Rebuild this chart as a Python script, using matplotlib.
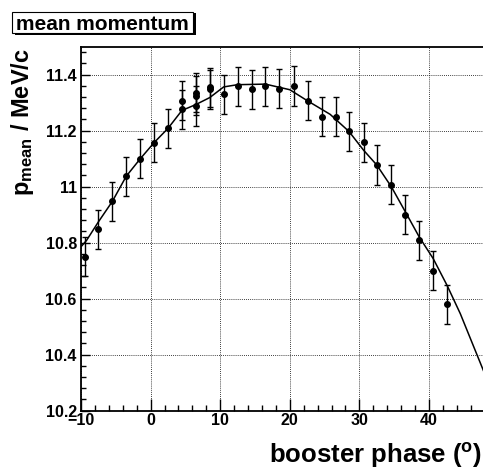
import matplotlib
matplotlib.use("Agg")
import matplotlib.pyplot as plt
from matplotlib.patches import Rectangle

plt.rcParams["font.family"] = ["Liberation Sans", "DejaVu Sans"]
plt.rcParams["font.weight"] = "bold"
plt.rcParams["mathtext.fontset"] = "custom"
plt.rcParams["mathtext.rm"] = "Liberation Sans:bold"
plt.rcParams["mathtext.sf"] = "Liberation Sans:bold"

# measured points (booster phase in degrees, mean momentum in MeV/c)
phase = [-9.47, -7.51, -5.5, -3.49, -1.52, 0.43, 2.45, 4.56, 4.56, 6.48, 6.48,
         6.48, 8.49, 8.49, 10.56, 12.56, 14.53, 16.5, 18.5, 20.56, 22.57, 24.58,
         26.59, 28.55, 30.62, 32.57, 34.58, 36.6, 38.6, 40.57, 42.63]
p_mean = [10.749, 10.848, 10.947, 11.037, 11.099, 11.157, 11.208, 11.307, 11.276,
          11.335, 11.325, 11.288, 11.355, 11.348, 11.329, 11.358, 11.347, 11.358,
          11.349, 11.359, 11.307, 11.249, 11.249, 11.197, 11.158, 11.077, 11.007,
          10.899, 10.808, 10.699, 10.579]
p_err = [0.07] * len(phase)

# fit curve
fit_x = [-10, -9.2, -7.5, -5.5, -3.5, -1.5, 0.5, 2.5, 4.5, 6.5, 8.5, 10.5, 12.5,
         16.5, 20.0, 22.5, 25.8, 28.5, 30.6, 32.5, 34.6, 36.6, 38.6, 40.6, 42.6,
         44.5, 47.8, 49.5]
fit_y = [10.785, 10.808, 10.874, 10.947, 11.037, 11.099, 11.157, 11.208, 11.272,
         11.293, 11.318, 11.356, 11.364, 11.366, 11.346, 11.307, 11.258, 11.197,
         11.13, 11.077, 10.999, 10.91, 10.82, 10.743, 10.647, 10.546, 10.344, 10.24]

x_ticks = [-10, 0, 10, 20, 30, 40]
y_ticks = [10.2, 10.4, 10.6, 10.8, 11.0, 11.2, 11.4]
y_labels = ["10.2", "10.4", "10.6", "10.8", "11", "11.2", "11.4"]

W, H = 483, 467
fig = plt.figure(figsize=(W / 100, H / 100), dpi=100)
ax = fig.add_axes([81 / W, 56.4 / H, 417.6 / W, 364 / H])

ax.plot(fit_x, fit_y, color="black", lw=1.1, zorder=3)
ax.errorbar(phase, p_mean, yerr=p_err, fmt="o", color="black", ms=4,
            elinewidth=1.0, capsize=2.4, capthick=1.0, zorder=4)

ax.set_xlim(-10, 50)
ax.set_ylim(10.2, 11.5)
ax.set_xticks(x_ticks)
ax.set_xticks([x for x in range(-10, 51, 2)], minor=True)
ax.set_yticks(y_ticks)
ax.set_yticklabels(y_labels)
ax.set_yticks([10.2 + 0.04 * i for i in range(33)], minor=True)
ax.tick_params(axis="both", which="both", direction="in", top=False, right=False,
               labelsize=11.5, width=1.0)
ax.tick_params(axis="x", which="major", length=8.5, pad=2)
ax.tick_params(axis="x", which="minor", length=4.3)
ax.tick_params(axis="y", which="major", length=6.5, pad=3)
ax.tick_params(axis="y", which="minor", length=3.6)
for lab in ax.get_xticklabels() + ax.get_yticklabels():
    lab.set_fontweight("bold")

ax.grid(True, which="major", color="black", lw=0.6, ls=(0, (1, 1.5)))
for s in ax.spines.values():
    s.set_linewidth(1.3)

fig.text(482 / W, 3.7 / H, r"booster phase ($^{\mathsf{o}}$)", ha="right",
         va="baseline", fontsize=18.5, fontweight="bold")
fig.text(23 / W, 1 - 48 / H, r"$\mathrm{p_{mean}}$ / MeV/c", rotation=90,
         ha="center", va="top", fontsize=17, fontweight="bold")

# title box with shadow
fig.patches.append(Rectangle((15 / W, 1 - 35 / H), 181 / W, 22.3 / H,
                             transform=fig.transFigure, facecolor="black",
                             edgecolor="none", zorder=1))
fig.patches.append(Rectangle((12 / W, 1 - 32.5 / H), 181 / W, 20.2 / H,
                             transform=fig.transFigure, facecolor="white",
                             edgecolor="black", lw=0.8, zorder=2))
fig.text(102.5 / W, 1 - 30.5 / H, "mean momentum", ha="center", va="baseline",
         fontsize=15, fontweight="bold", zorder=3)

fig.savefig("out.png", dpi=100)
